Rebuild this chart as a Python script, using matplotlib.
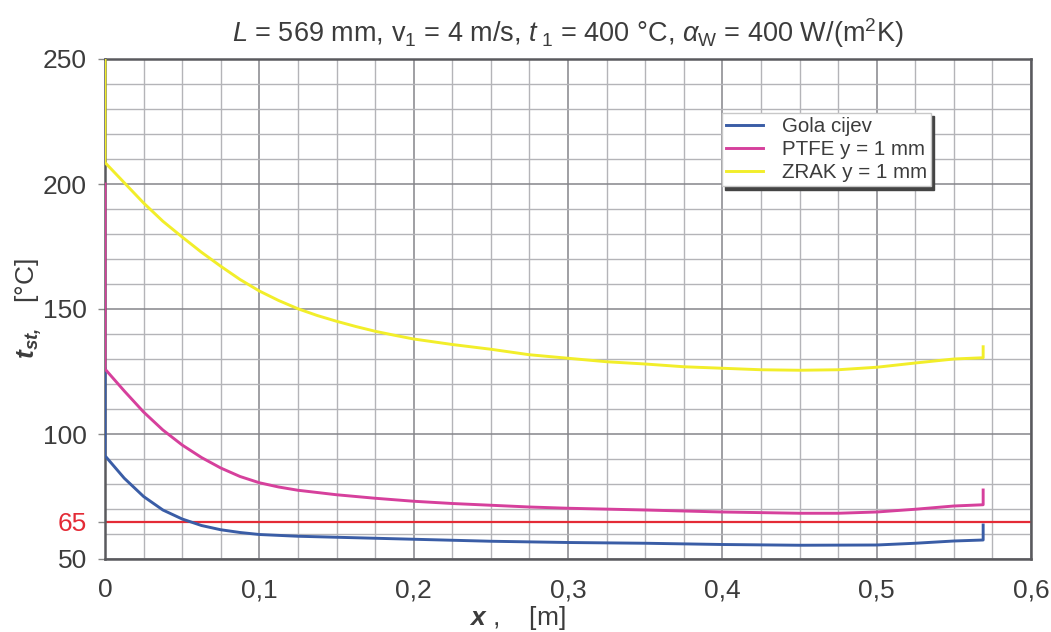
import matplotlib
matplotlib.use("Agg")
import matplotlib.pyplot as plt
from matplotlib.ticker import MultipleLocator, FixedLocator

# === DATA ===
x_gola = [0, 0, 0.0125, 0.025, 0.0375, 0.05, 0.0625, 0.075, 0.0875, 0.1, 0.125, 0.15, 0.175, 0.2,
          0.25, 0.3, 0.35, 0.4, 0.45, 0.5, 0.525, 0.55, 0.569, 0.569]
t_gola = [126, 91.3, 82.3, 75.0, 69.6, 66.0, 63.4, 61.7, 60.6, 59.8, 59.1, 58.7, 58.3, 57.9,
          57.1, 56.6, 56.3, 55.8, 55.5, 55.6, 56.3, 57.2, 57.6, 63.6]

x_ptfe = [0, 0, 0.0125, 0.025, 0.0375, 0.05, 0.0625, 0.075, 0.0875, 0.1, 0.1125, 0.125, 0.15,
          0.175, 0.2, 0.225, 0.25, 0.275, 0.3, 0.35, 0.4, 0.45, 0.475, 0.5, 0.525, 0.55,
          0.569, 0.569]
t_ptfe = [200, 126, 117.2, 108.8, 101.6, 95.6, 90.6, 86.4, 83.0, 80.5, 78.8, 77.5, 75.7,
          74.3, 73.1, 72.2, 71.5, 70.8, 70.3, 69.6, 68.8, 68.3, 68.3, 68.8, 69.9, 71.2,
          71.7, 77.6]

x_zrak = [0, 0, 0.0125, 0.025, 0.0375, 0.05, 0.0625, 0.075, 0.0875, 0.1, 0.1125, 0.125, 0.1375,
          0.15, 0.1625, 0.175, 0.1875, 0.2, 0.225, 0.25, 0.275, 0.3, 0.325, 0.35, 0.375, 0.4,
          0.425, 0.45, 0.475, 0.5, 0.525, 0.55, 0.569, 0.569]
t_zrak = [250, 208.6, 200.5, 192.4, 185.1, 178.8, 172.7, 167.1, 161.8, 157.2, 153.4, 150.1, 147.4,
          145.1, 143.0, 141.1, 139.5, 138.0, 135.8, 133.9, 131.7, 130.3, 128.9, 128.0, 126.9, 126.3,
          125.7, 125.5, 125.7, 126.7, 128.4, 130.0, 130.5, 134.9]

t_granica = 65
y_ticks = [50, 65, 100, 150, 200, 250]
x_ticks = [0, 0.1, 0.2, 0.3, 0.4, 0.5, 0.6]
x_tick_labels = ["0", "0,1", "0,2", "0,3", "0,4", "0,5", "0,6"]
labels = ["Gola cijev", "PTFE y = 1 mm", "ZRAK y = 1 mm"]

# === STYLE ===
plt.rcParams["font.family"] = ["Liberation Sans", "DejaVu Sans"]
plt.rcParams["mathtext.fontset"] = "custom"
plt.rcParams["mathtext.rm"] = "Liberation Sans"
plt.rcParams["mathtext.it"] = "Liberation Sans:italic"
plt.rcParams["mathtext.bf"] = "Liberation Sans:bold:italic"

txt = "#3c3c3c"
blue = "#3a5da6"
magenta = "#d6409c"
yellow = "#f2ee2a"
red = "#e42b36"

fig = plt.figure(figsize=(10.51, 6.32), dpi=100)
ax = fig.add_axes([105 / 1051, 1 - 559 / 632, 926 / 1051, 500 / 632])

ax.plot(x_gola, t_gola, color=blue, lw=2.1, label=labels[0], zorder=3)
ax.plot(x_ptfe, t_ptfe, color=magenta, lw=2.1, label=labels[1], zorder=3)
ax.plot(x_zrak, t_zrak, color=yellow, lw=2.1, label=labels[2], zorder=4)
ax.axhline(t_granica, color=red, lw=1.6, zorder=2)

ax.set_xlim(0, 0.6)
ax.set_ylim(50, 250)

ax.xaxis.set_major_locator(FixedLocator(x_ticks))
ax.set_xticklabels(x_tick_labels)
ax.xaxis.set_minor_locator(MultipleLocator(0.025))
ax.yaxis.set_major_locator(FixedLocator(y_ticks))
ax.yaxis.set_minor_locator(MultipleLocator(10))

ax.grid(which="minor", color="#b4b4b8", lw=1.0)
ax.grid(which="major", color="#85858a", lw=1.1)
ax.set_axisbelow(True)

ax.tick_params(axis="y", which="major", length=5, width=1, color="#888", pad=8,
               labelsize=19, labelcolor=txt)
ax.tick_params(axis="x", which="major", length=0, pad=14, labelsize=19, labelcolor=txt)
ax.tick_params(which="minor", length=0)
for lab in ax.get_yticklabels():
    if lab.get_text() == "65":
        lab.set_color(red)

for s in ax.spines.values():
    s.set_color("#5a5a5e")
    s.set_linewidth(1.8)

ax.set_title(r"$L$ = 569 mm, v$_1$ = 4 m/s, $t$$_{\ 1}$ = 400 °C, $\alpha_{\rm W}$ = 400 W/(m$^2$K)",
             fontsize=19.5, color=txt, pad=12)
ax.set_ylabel(r"$\mathbf{t}_{\mathbf{st,}}$   [°C]", fontsize=19, color=txt, va="center")
ax.yaxis.set_label_coords(-0.082, 0.5)
ax.set_xlabel(r"$\mathbf{x}$ ,    [m]", fontsize=19, color=txt, va="center")
ax.xaxis.set_label_coords(0.445, -0.118)

leg = ax.legend(loc="upper left", bbox_to_anchor=(722 / 1051, 1 - 113 / 632),
                bbox_transform=fig.transFigure, fontsize=14.8, frameon=True, fancybox=False,
                shadow={"ox": 2.5, "oy": -2.5, "color": "#444", "alpha": 1},
                borderaxespad=0, borderpad=0.2, handlelength=1.8, handletextpad=0.9,
                labelspacing=0.2, framealpha=1)
leg.get_frame().set_edgecolor("#c8c8c8")
leg.get_frame().set_linewidth(1.0)
for t in leg.get_texts():
    t.set_color(txt)

fig.savefig("out.png", dpi=100)
